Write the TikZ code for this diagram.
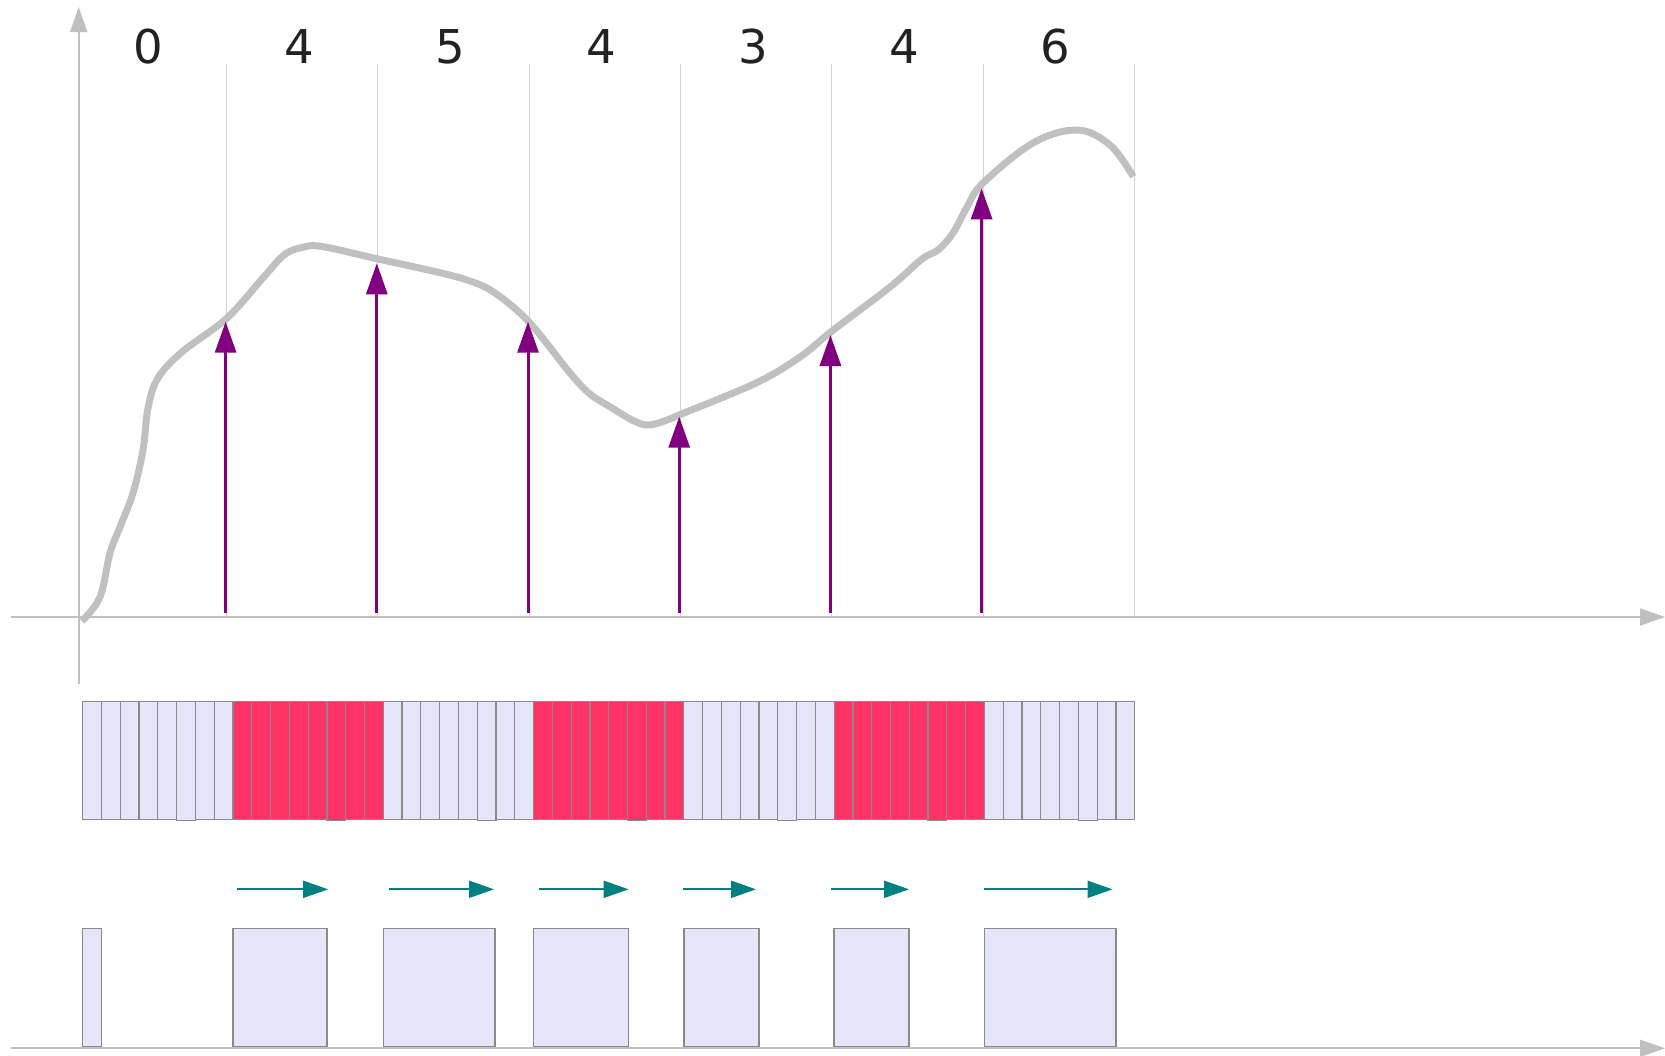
\documentclass[tikz,border=0pt]{standalone}
\usepackage{fontspec}
\setmainfont{DejaVu Sans}
\usetikzlibrary{arrows.meta}
\definecolor{axisgray}{HTML}{C0C0C0}
\definecolor{gridgray}{HTML}{D3D3D3}
\definecolor{lav}{HTML}{E6E6FA}
\definecolor{bred}{HTML}{FF3366}
\definecolor{purp}{HTML}{800080}
\definecolor{tealc}{HTML}{008080}
\definecolor{edgegray}{HTML}{8A8A8A}
\definecolor{labelc}{HTML}{222222}
\begin{document}
\begin{tikzpicture}[x=0.5pt,y=-0.5pt,
  axisline/.style={draw=axisgray, line width=1pt, -{Triangle[length=12.5pt,width=8.5pt]}},
  gridl/.style={draw=gridgray, line width=0.5pt},
  signal/.style={draw=axisgray, line width=3.5pt, line join=round},
  samplearrow/.style={draw=purp, line width=1.5pt, -{Triangle[length=15.5pt,width=10.5pt]}},
  movearrow/.style={draw=tealc, line width=1pt, -{Triangle[length=12.5pt,width=8.5pt]}},
  barcell/.style={draw=edgegray, line width=0.6pt},
  outbox/.style={draw=edgegray, line width=0.7pt, fill=lav},
  numlab/.style={font=\fontsize{23.3}{28}\selectfont, text=labelc, anchor=base, inner sep=0pt}]
\useasboundingbox (0,0) rectangle (1665,1055);

% grid lines
\foreach \k in {0,...,6}
  \draw[gridl] ({226.5+151.3*\k},63.5) -- ({226.5+151.3*\k},617);

% labels
\foreach \v [count=\i from 0] in {0,4,5,4,3,4,6}
  \node[numlab] (L\i) at ({147.9+151.3*\i},63) {\v};

% axes
\coordinate (yb) at (78.7,684);
\coordinate (yt) at (78.7,7);
\coordinate (xl) at (10.6,617);
\coordinate (xr) at (1665,617);
\coordinate (bl) at (10.6,1048.3);
\coordinate (br) at (1665,1048.3);
\draw[axisline] (yb) -- (yt);
\draw[axisline] (xl) -- (xr);
\draw[axisline] (bl) -- (br);

% signal curve
\draw[signal] plot[smooth, tension=0.6] coordinates {
(82,621) (100,597) (110,553) (120,527) (133,493) (143,450) (148,408)
(158,378) (182,352) (226.7,318.3) (262,279) (284,255) (302,247.5)
(322,246.5) (378,259) (437,272) (470,281) (495,293) (529,322) (570,373)
(590,394) (612,408) (632,420) (647,425) (663,421.5) (684,413) (756,383)
(800,357) (832,331) (890,287) (922,259) (938,250) (953,233) (967,207)
(983,183) (1033,143) (1077,130) (1110,145) (1133.3,176.7)};

% sample arrows
\foreach \t [count=\i from 0] in {321.7,263.3,321.7,416.7,335,188.3} {
  \coordinate (S\i b) at ({225.6+151.2*\i},613);
  \coordinate (S\i t) at ({225.6+151.2*\i},\t);
  \draw[samplearrow] (S\i b) -- (S\i t);
}

% bar cells
\foreach \g/\c in {0/lav,1/bred,2/lav,3/bred,4/lav,5/bred,6/lav} {
  \foreach \j in {0,...,7} {
    \pgfmathsetmacro\xa{82.7+18.786*(8*\g+\j)}
    \pgfmathsetmacro\xb{\xa+18.786}
    \ifnum\j=5 \def\yb{820.5}\else\def\yb{819.3}\fi
    \draw[barcell, fill=\c] (\xa,701.7) rectangle (\xb,\yb);
  }
}

% move arrows
\foreach \a/\b [count=\i] in {236.8/328.1, 388.7/494, 539.4/628.6, 683.3/756, 830.8/909, 984/1112.5} {
  \coordinate (M\i a) at (\a,889.3);
  \coordinate (M\i b) at (\b,889.3);
  \draw[movearrow] (M\i a) -- (M\i b);
}

% output boxes
\foreach \a/\b [count=\i] in {82.7/101.5, 233/327, 383.3/494.8, 533.6/628.6, 683.9/759, 834.1/909, 984.4/1116}
  \draw[outbox] (\a,928.3) rectangle (\b,1046.7);
\end{tikzpicture}
\end{document}
